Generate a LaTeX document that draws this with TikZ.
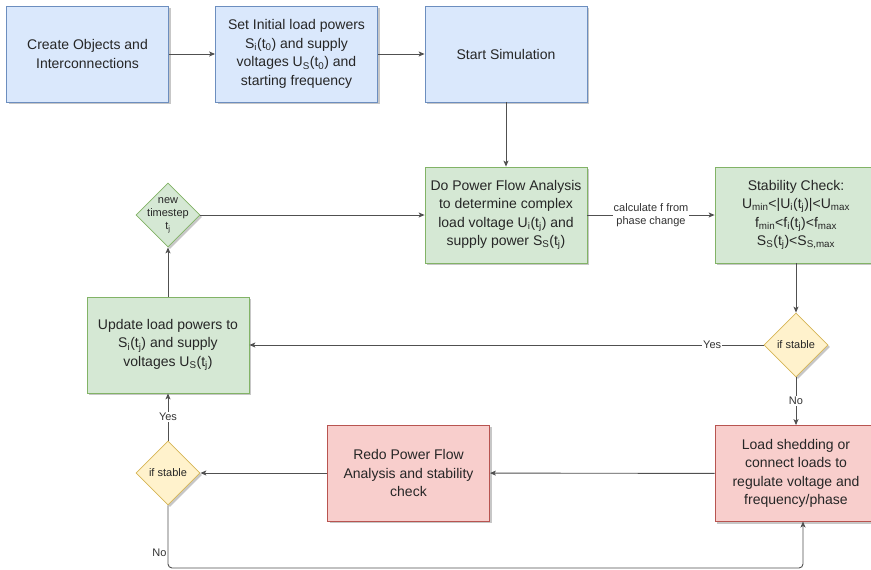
\documentclass[tikz,border=0pt]{standalone}
\usepackage{fontspec}
\setmainfont{Liberation Sans}
\usepackage{tikz}
\usetikzlibrary{arrows.meta}
\usetikzlibrary{shapes.geometric}
\usetikzlibrary{shadows}

\definecolor{blueFill}{HTML}{DAE8FC}
\definecolor{blueLine}{HTML}{6C8EBF}
\definecolor{greenFill}{HTML}{D5E8D4}
\definecolor{greenLine}{HTML}{82B366}
\definecolor{redFill}{HTML}{F8CECC}
\definecolor{redLine}{HTML}{B85450}
\definecolor{yellowFill}{HTML}{FFF2CC}
\definecolor{yellowLine}{HTML}{D6B656}
\definecolor{flowLine}{HTML}{505050}

\begin{document}
\begin{tikzpicture}[x=1pt,y=-1pt,
	shade box/.style={drop shadow={shadow xshift=2pt,shadow yshift=-2pt,fill=black,opacity=0.22}},
	box/.style 2 args={rectangle,draw=#2,fill=#1,line width=0.8pt,minimum width=162pt,minimum height=96pt,
		align=center,text=black!85,font=\fontsize{14}{18.5}\selectfont,shade box},
	bluebox/.style={box={blueFill}{blueLine}},
	greenbox/.style={box={greenFill}{greenLine}},
	redbox/.style={box={redFill}{redLine}},
	decision/.style 2 args={diamond,draw=#2,fill=#1,line width=0.8pt,minimum width=64pt,minimum height=64pt,
		inner sep=0pt,align=center,text=black!85,font=\fontsize{11}{13}\selectfont,shade box},
	flow/.style={draw=flowLine,line width=0.9pt,-{Stealth[length=6pt,width=5pt,inset=1.5pt]}},
	lbl/.style={fill=white,inner sep=1pt,text=black!80,font=\fontsize{11}{13}\selectfont,align=center}]
	\useasboundingbox (0,0) rectangle (871,570);
	\node[bluebox] (create) at (87.5,54) {Create Objects and\\Interconnections};
	\node[bluebox] (init) at (296.5,54) {Set Initial load powers\\S\textsubscript{i}(t\textsubscript{0}) and supply\\voltages U\textsubscript{S}(t\textsubscript{0}) and\\starting frequency};
	\node[bluebox] (start) at (506,54) {Start Simulation};
	\node[greenbox] (pfa) at (506,215) {Do Power Flow Analysis\\to determine complex\\load voltage U\textsubscript{i}(t\textsubscript{j}) and\\supply power S\textsubscript{S}(t\textsubscript{j})};
	\node[greenbox] (stab) at (796,215) {Stability Check:\\U\textsubscript{min}<|U\textsubscript{i}(t\textsubscript{j})|<U\textsubscript{max}\\f\textsubscript{min}<f\textsubscript{i}(t\textsubscript{j})<f\textsubscript{max}\\S\textsubscript{S}(t\textsubscript{j})<S\textsubscript{S,max}};
	\node[decision={greenFill}{greenLine},label={[align=center,font=\fontsize{11}{13}\selectfont,text=black!85]center:new\\timestep\\t\textsubscript{j}}] (ts) at (168,215) {};
	\node[greenbox] (update) at (168,345) {Update load powers to\\S\textsubscript{i}(t\textsubscript{j}) and supply\\voltages U\textsubscript{S}(t\textsubscript{j})};
	\node[decision={yellowFill}{yellowLine}] (stableR) at (796,345) {if stable};
	\node[redbox] (shed) at (796,473.5) {Load shedding or\\connect loads to\\regulate voltage and\\frequency/phase};
	\node[redbox] (redo) at (408.5,473) {Redo Power Flow\\Analysis and stability\\check};
	\node[decision={yellowFill}{yellowLine}] (stableL) at (168,473) {if stable};
	\coordinate (bend) at (168,568);
	\coordinate (shedIn) at (803,521.5);

	\draw[flow] (create) -- (init);
	\draw[flow] (init) -- (start);
	\draw[flow] (start) -- (pfa);
	\draw[flow] (pfa) -- node[lbl]{calculate f from\\phase change} (stab);
	\draw[flow] (stab) -- (stableR);
	\draw[flow] (stableR) -- node[lbl,pos=0.1]{Yes} (update);
	\draw[flow] (stableR) -- node[lbl]{No} (shed);
	\draw[flow] (shed) -- (redo);
	\draw[flow] (redo) -- (stableL);
	\draw[flow] (stableL) -- node[lbl]{Yes} (update);
	\draw[flow] (update) -- (ts);
	\draw[flow] (ts) -- (pfa);
	\draw[flow,rounded corners=4pt] (stableL.south) -- node[pos=0.75,left,inner sep=1pt,text=black!80,font=\fontsize{11}{13}\selectfont]{No} (bend) -| (shedIn);
\end{tikzpicture}
\end{document}
